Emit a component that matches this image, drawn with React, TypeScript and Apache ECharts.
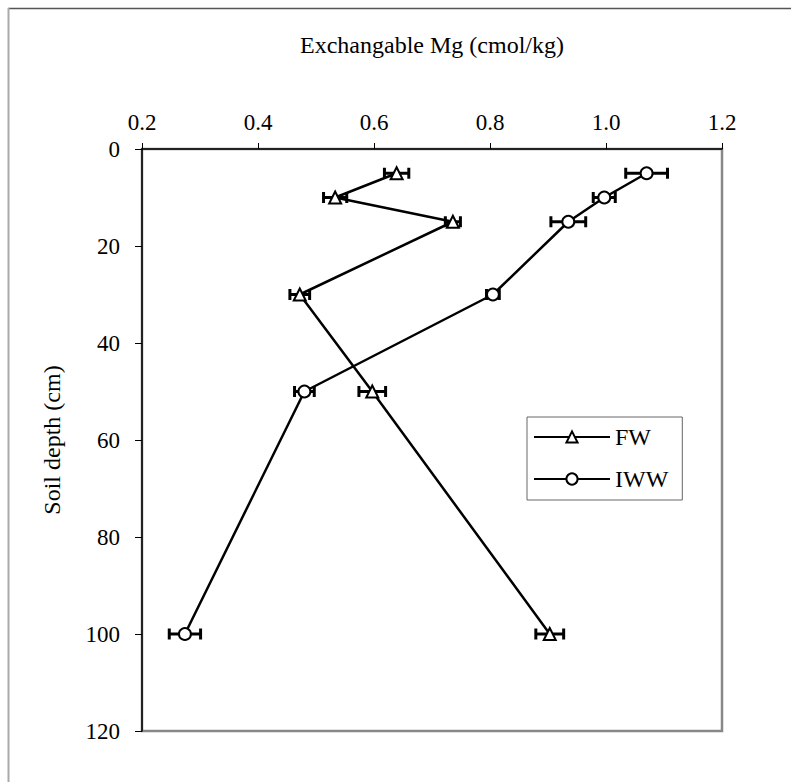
import React, { useEffect, useRef } from "react";
import * as echarts from "echarts";

const depths = [5, 10, 15, 30, 50, 100];
const fwValues = [0.639, 0.533, 0.736, 0.472, 0.597, 0.903];
const fwErrors = [0.021, 0.02, 0.013, 0.017, 0.023, 0.024];
const iwwValues = [1.07, 0.997, 0.935, 0.805, 0.48, 0.274];
const iwwErrors = [0.036, 0.019, 0.03, 0.011, 0.017, 0.027];
const seriesNames = ["FW", "IWW"];
const xTitle = "Exchangable Mg (cmol/kg)";
const yTitle = "Soil depth (cm)";

const FONT = "'Liberation Serif', 'Times New Roman', serif";

export default function App() {
  const ref = useRef<HTMLDivElement>(null);
  useEffect(() => {
    if (!ref.current) return;
    const chart = echarts.init(ref.current, null, { renderer: "svg" });
    const errData = (vals: number[], errs: number[]) =>
      depths.map((d, i) => [vals[i] - errs[i], vals[i] + errs[i], d]);
    const renderErr = (params: any, api: any) => {
      const lo = api.coord([api.value(0), api.value(2)]);
      const hi = api.coord([api.value(1), api.value(2)]);
      const cap = 5.5;
      const style = { stroke: "#000", lineWidth: 3 };
      return {
        type: "group",
        children: [
          { type: "line", shape: { x1: lo[0], y1: lo[1], x2: hi[0], y2: hi[1] }, style },
          { type: "line", shape: { x1: lo[0], y1: lo[1] - cap, x2: lo[0], y2: lo[1] + cap }, style },
          { type: "line", shape: { x1: hi[0], y1: hi[1] - cap, x2: hi[0], y2: hi[1] + cap }, style },
        ],
      };
    };
    const lineSeries = (name: string, vals: number[], symbol: string, size: number) => ({
      name,
      type: "line",
      data: depths.map((d, i) => [vals[i], d]),
      symbol,
      symbolSize: size,
      showAllSymbol: true,
      z: 3,
      lineStyle: { color: "#000", width: 2.5 },
      itemStyle: { color: "#fff", borderColor: "#000", borderWidth: 2 },
    });
    chart.setOption({
      animation: false,
      backgroundColor: "#fff",
      textStyle: { fontFamily: FONT, color: "#000" },
      grid: {
        left: 142,
        top: 149,
        right: 69,
        bottom: 51,
        show: true,
        borderColor: "#888",
        borderWidth: 2.5,
        backgroundColor: "transparent",
      },
      xAxis: {
        type: "value",
        position: "top",
        min: 0.2,
        max: 1.2,
        interval: 0.2,
        name: xTitle,
        nameLocation: "middle",
        nameGap: 92,
        nameTextStyle: { fontSize: 24, fontFamily: FONT, color: "#000" },
        axisLine: { show: true, lineStyle: { color: "#000", width: 1.5 } },
        axisTick: { show: true, inside: false, length: 6, lineStyle: { color: "#000", width: 1 } },
        axisLabel: {
          fontSize: 23,
          fontFamily: FONT,
          color: "#000",
          margin: 15,
          formatter: (v: number) => v.toFixed(1),
        },
        splitLine: { show: false },
      },
      yAxis: {
        type: "value",
        inverse: true,
        min: 0,
        max: 120,
        interval: 20,
        name: yTitle,
        nameLocation: "middle",
        nameGap: 78,
        nameTextStyle: { fontSize: 24, fontFamily: FONT, color: "#000" },
        axisLine: { show: true, lineStyle: { color: "#000", width: 1.5 } },
        axisTick: { show: true, inside: false, length: 7, lineStyle: { color: "#000", width: 1 } },
        axisLabel: { fontSize: 23, fontFamily: FONT, color: "#000", margin: 22 },
        splitLine: { show: false },
      },
      legend: {
        data: seriesNames,
        orient: "vertical",
        left: 527,
        top: 417,
        padding: [7, 14, 8, 6],
        itemGap: 16,
        itemWidth: 76,
        itemHeight: 14,
        backgroundColor: "#fff",
        borderColor: "#666",
        borderWidth: 1,
        textStyle: { fontSize: 24, fontFamily: FONT, color: "#000", lineHeight: 26 },
      },
      graphic: [
        { type: "line", shape: { x1: 8, y1: 8.5, x2: 791, y2: 8.5 }, style: { stroke: "#555", lineWidth: 1.5 } },
        { type: "line", shape: { x1: 8.5, y1: 8, x2: 8.5, y2: 782 }, style: { stroke: "#aaa", lineWidth: 2 } },
      ],
      series: [
        {
          name: "FW err",
          type: "custom",
          z: 2,
          renderItem: renderErr,
          encode: { x: [0, 1], y: 2 },
          data: errData(fwValues, fwErrors),
        },
        {
          name: "IWW err",
          type: "custom",
          z: 2,
          renderItem: renderErr,
          encode: { x: [0, 1], y: 2 },
          data: errData(iwwValues, iwwErrors),
        },
        lineSeries("FW", fwValues, "triangle", 12),
        lineSeries("IWW", iwwValues, "circle", 12),
      ],
    });
    return () => chart.dispose();
  }, []);
  return (
    <div
      ref={ref}
      style={{ position: "absolute", left: 0, top: 0, width: 791, height: 782 }}
    />
  );
}
